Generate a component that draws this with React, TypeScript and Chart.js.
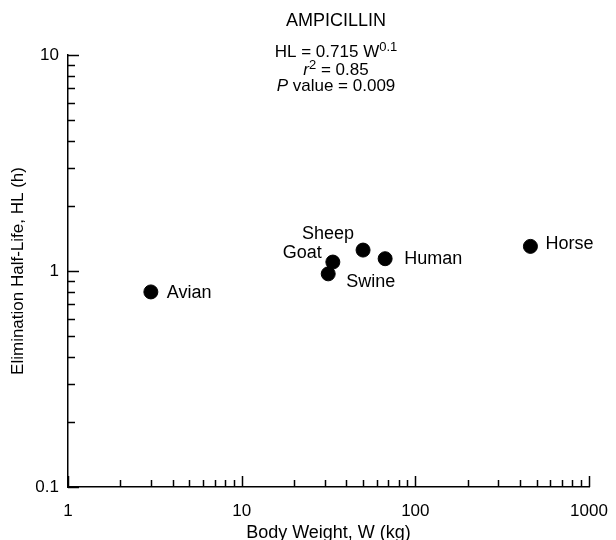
import { useEffect, useRef } from 'react';
import { Chart, registerables } from 'chart.js';

Chart.register(...registerables);

// ---- data ----
const SPECIES = ['Avian', 'Goat', 'Swine', 'Sheep', 'Human', 'Horse'];
const BODY_WEIGHT_KG = [3, 33.5, 31.5, 50, 67, 460];
const HALF_LIFE_H = [0.8, 1.1, 0.97, 1.25, 1.14, 1.3];
const X_TICKS = [1, 10, 100, 1000];
const Y_TICKS = [0.1, 1, 10];
const X_TITLE = 'Body Weight, W (kg)';
const Y_TITLE = 'Elimination Half-Life, HL (h)';
const DRUG = 'AMPICILLIN';
const FIT_COEF = '0.715';
const FIT_EXP = '0.1';
const R_SQUARED = '0.85';
const P_VALUE = '0.009';

const FONT = '"Liberation Sans", Arial, Helvetica, sans-serif';

const LABEL_PLACEMENT: Record<string, { dx: number; dy: number; align: CanvasTextAlign }> = {
  Avian: { dx: 16, dy: 1, align: 'left' },
  Goat: { dx: -11, dy: -9, align: 'right' },
  Swine: { dx: 18, dy: 8, align: 'left' },
  Sheep: { dx: -9, dy: -16, align: 'right' },
  Human: { dx: 19, dy: 0, align: 'left' },
  Horse: { dx: 15, dy: -2, align: 'left' },
};

const pointLabels = {
  id: 'pointLabels',
  afterDatasetsDraw(chart: any) {
    const ctx = chart.ctx;
    const meta = chart.getDatasetMeta(0);
    ctx.save();
    ctx.fillStyle = '#000';
    ctx.font = `18px ${FONT}`;
    ctx.textBaseline = 'middle';
    meta.data.forEach((el: any, i: number) => {
      const name = SPECIES[i];
      const p = LABEL_PLACEMENT[name];
      ctx.textAlign = p.align;
      ctx.fillText(name, el.x + p.dx, el.y + p.dy);
    });
    ctx.restore();
  },
};

const inwardTicks = {
  id: 'inwardTicks',
  afterDraw(chart: any) {
    const ctx = chart.ctx;
    const xs = chart.scales.x;
    const ys = chart.scales.y;
    const { left, bottom } = chart.chartArea;
    ctx.save();
    ctx.strokeStyle = '#000';
    ctx.lineWidth = 1.5;
    const each = (min: number, max: number, fn: (v: number, major: boolean) => void) => {
      for (let e = Math.floor(Math.log10(min)); e <= Math.ceil(Math.log10(max)); e++) {
        for (let m = 1; m <= 9; m++) {
          const v = m * Math.pow(10, e);
          if (v < min * 0.999 || v > max * 1.001) continue;
          fn(v, m === 1);
        }
      }
    };
    each(xs.min, xs.max, (v, major) => {
      const px = Math.round(xs.getPixelForValue(v)) + 0.5;
      ctx.beginPath();
      ctx.moveTo(px, bottom);
      ctx.lineTo(px, bottom - (major ? 11 : 7));
      ctx.stroke();
    });
    each(ys.min, ys.max, (v, major) => {
      const py = Math.round(ys.getPixelForValue(v)) + 0.5;
      ctx.beginPath();
      ctx.moveTo(left, py);
      ctx.lineTo(left + (major ? 11 : 7), py);
      ctx.stroke();
    });
    ctx.restore();
  },
};

const annotation = {
  id: 'annotation',
  afterDraw(chart: any) {
    const ctx = chart.ctx;
    const cx = 336;
    ctx.save();
    ctx.fillStyle = '#000';
    ctx.textBaseline = 'alphabetic';
    ctx.textAlign = 'left';
    const big = `18px ${FONT}`;
    const main = `17px ${FONT}`;
    const ital = `italic 17px ${FONT}`;
    const sup = `13px ${FONT}`;
    const drawRuns = (runs: { t: string; f: string; rise?: number }[], y: number) => {
      let w = 0;
      runs.forEach((r) => {
        ctx.font = r.f;
        w += ctx.measureText(r.t).width;
      });
      let x = cx - w / 2;
      runs.forEach((r) => {
        ctx.font = r.f;
        ctx.fillText(r.t, x, y - (r.rise || 0));
        x += ctx.measureText(r.t).width;
      });
    };
    drawRuns([{ t: DRUG, f: big }], 26);
    drawRuns([{ t: `HL = ${FIT_COEF} W`, f: main }, { t: FIT_EXP, f: sup, rise: 6 }], 57);
    drawRuns([{ t: 'r', f: ital }, { t: '2', f: sup, rise: 6 }, { t: ` = ${R_SQUARED}`, f: main }], 75);
    drawRuns([{ t: 'P', f: ital }, { t: ` value = ${P_VALUE}`, f: main }], 91);
    ctx.restore();
  },
};

export default function App() {
  const ref = useRef<HTMLCanvasElement>(null);
  useEffect(() => {
    if (!ref.current) return;
    const chart = new Chart(ref.current, {
      type: 'scatter',
      data: {
        datasets: [
          {
            data: BODY_WEIGHT_KG.map((x, i) => ({ x, y: HALF_LIFE_H[i] })),
            backgroundColor: '#000',
            borderColor: '#000',
            pointRadius: 7,
            pointHoverRadius: 7,
          },
        ],
      },
      options: {
        responsive: false,
        animation: false,
        layout: { padding: { top: 55, right: 27, left: 0, bottom: 0 } },
        plugins: { legend: { display: false }, tooltip: { enabled: false } },
        scales: {
          x: {
            type: 'logarithmic',
            position: 'bottom',
            min: 1,
            max: 1000,
            grid: { display: false, drawTicks: false },
            border: { display: true, color: '#000', width: 1.5 },
            afterBuildTicks: (s: any) => {
              s.ticks = X_TICKS.map((v) => ({ value: v }));
            },
            ticks: {
              color: '#000',
              font: { family: FONT, size: 17 },
              padding: 14,
              maxRotation: 0,
              autoSkip: false,
              callback: (v: any) => String(v),
            },
            title: {
              display: true,
              text: X_TITLE,
              color: '#000',
              font: { family: FONT, size: 18, lineHeight: 1 },
              padding: { top: 0, bottom: -2 },
            },
            afterFit: (s: any) => {
              s.height = 53;
              s.paddingLeft = 0;
              s.paddingRight = 0;
            },
          },
          y: {
            type: 'logarithmic',
            position: 'left',
            min: 0.1,
            max: 10,
            grid: { display: false, drawTicks: false },
            border: { display: true, color: '#000', width: 1.5 },
            afterBuildTicks: (s: any) => {
              s.ticks = Y_TICKS.map((v) => ({ value: v }));
            },
            ticks: {
              color: '#000',
              font: { family: FONT, size: 17 },
              padding: 9,
              autoSkip: false,
              callback: (v: any) => String(v),
            },
            title: {
              display: true,
              text: Y_TITLE,
              color: '#000',
              font: { family: FONT, size: 17, lineHeight: 1 },
              padding: { top: 10, bottom: 0 },
            },
            afterFit: (s: any) => {
              s.width = 68;
              s.paddingTop = 0;
              s.paddingBottom = 0;
            },
          },
        },
      },
      plugins: [inwardTicks, pointLabels, annotation],
    } as any);
    return () => chart.destroy();
  }, []);
  return (
    <div style={{ position: 'absolute', left: 0, top: 0, width: 616, height: 540, background: '#fff' }}>
      <canvas ref={ref} width={616} height={540} />
    </div>
  );
}
